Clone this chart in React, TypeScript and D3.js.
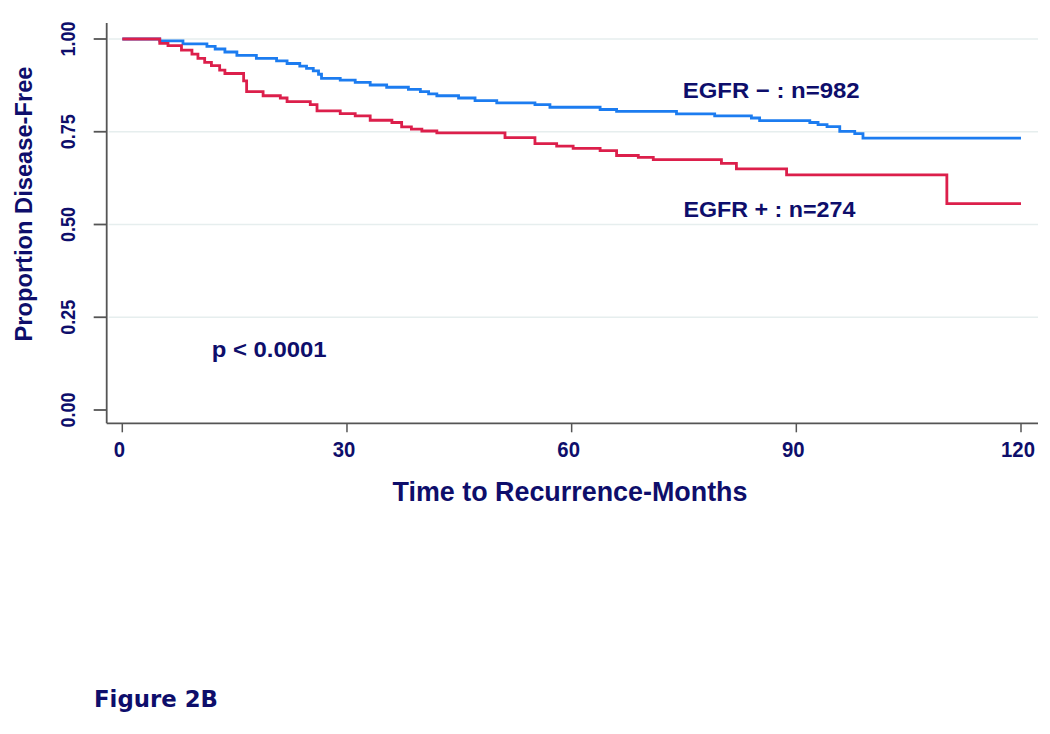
import React from "react";
import * as d3 from "d3";

// EGFR negative: step times (months) and proportion disease-free after each step
const negTimes = [0, 5.0, 8.1, 11.3, 12.4, 13.7, 15.3, 17.9, 20.6, 22.0, 23.7, 24.6, 25.5, 26.2, 26.6, 29.1, 31.1, 33.1, 35.3, 38.2, 39.8, 40.9, 42.0, 44.9, 47.1, 50.0, 55.1, 57.1, 63.8, 66.0, 74.0, 79.1, 84.0, 85.1, 91.8, 92.9, 94.1, 95.8, 97.8, 98.9, 120];
const negSurv = [1.0, 0.995, 0.987, 0.98, 0.973, 0.965, 0.956, 0.948, 0.941, 0.934, 0.927, 0.921, 0.914, 0.905, 0.894, 0.889, 0.883, 0.876, 0.87, 0.864, 0.858, 0.852, 0.847, 0.841, 0.834, 0.828, 0.823, 0.816, 0.81, 0.805, 0.798, 0.793, 0.787, 0.78, 0.775, 0.769, 0.764, 0.751, 0.745, 0.733, 0.733];

// EGFR positive
const posTimes = [0, 5.0, 6.1, 7.9, 9.3, 10.1, 11.0, 11.9, 13.0, 13.7, 16.2, 16.6, 18.8, 21.1, 22.0, 25.1, 26.0, 29.1, 31.1, 33.1, 36.0, 37.3, 38.6, 40.0, 42.0, 51.1, 55.1, 58.0, 60.2, 63.8, 66.0, 68.9, 70.9, 80.0, 82.0, 88.7, 110.1, 120];
const posSurv = [1.0, 0.988, 0.982, 0.97, 0.959, 0.948, 0.937, 0.928, 0.916, 0.907, 0.887, 0.858, 0.847, 0.841, 0.831, 0.823, 0.806, 0.799, 0.793, 0.781, 0.775, 0.763, 0.757, 0.752, 0.747, 0.734, 0.718, 0.711, 0.705, 0.699, 0.686, 0.681, 0.675, 0.665, 0.65, 0.634, 0.556, 0.556];

const xTicks = [0, 30, 60, 90, 120];
const yTicks = [0, 0.25, 0.5, 0.75, 1.0];
const gridTicks = [0.25, 0.5, 0.75, 1.0];

const navy = "#0e0e6b";
const blue = "#1c7cf0";
const red = "#dc1f4b";

export default function App() {
  const x = d3.scaleLinear().domain([0, 120]).range([122.3, 1021]);
  const y = d3.scaleLinear().domain([0, 1]).range([410, 39]);

  const line = d3
    .line<[number, number]>()
    .x((d) => x(d[0]))
    .y((d) => y(d[1]))
    .curve(d3.curveStepAfter);

  const negPts = negTimes.map((t, i) => [t, negSurv[i]] as [number, number]);
  const posPts = posTimes.map((t, i) => [t, posSurv[i]] as [number, number]);

  const axisX0 = 106.7;
  const axisY0 = 423.3;
  const font = "'Liberation Sans', Arial, sans-serif";

  return (
    <svg
      width={1050}
      height={734}
      style={{ position: "absolute", left: 0, top: 0, background: "#fff" }}
      fontFamily={font}
      fontWeight="bold"
    >
      {/* grid */}
      {gridTicks.map((v) => (
        <line key={"g" + v} x1={axisX0 + 2} x2={1038} y1={y(v)} y2={y(v)} stroke="#e6eeee" strokeWidth={1.5} />
      ))}

      {/* axes */}
      <line x1={axisX0} x2={axisX0} y1={23} y2={axisY0} stroke="#555" strokeWidth={1.8} />
      <line x1={axisX0} x2={1038} y1={axisY0} y2={axisY0} stroke="#555" strokeWidth={1.8} />

      {yTicks.map((v) => (
        <g key={"y" + v}>
          <line x1={axisX0 - 13} x2={axisX0} y1={y(v)} y2={y(v)} stroke="#555" strokeWidth={1.8} />
          <text
            transform={`translate(74.5,${y(v)}) rotate(-90)`}
            textAnchor="middle"
            fontSize={20}
            fill={navy}
            textLength={35}
            lengthAdjust="spacingAndGlyphs"
          >
            {v.toFixed(2)}
          </text>
        </g>
      ))}

      {xTicks.map((v) => (
        <g key={"x" + v}>
          <line x1={x(v)} x2={x(v)} y1={axisY0} y2={axisY0 + 9} stroke="#555" strokeWidth={1.5} />
          <text
            x={x(v) - 3}
            y={457}
            textAnchor="middle"
            fontSize={22}
            fill={navy}
            textLength={String(v).length * 11.3}
            lengthAdjust="spacingAndGlyphs"
          >
            {v}
          </text>
        </g>
      ))}

      {/* curves */}
      <path d={line(negPts) ?? ""} fill="none" stroke={blue} strokeWidth={2.8} />
      <path d={line(posPts) ?? ""} fill="none" stroke={red} strokeWidth={2.8} />

      {/* axis titles */}
      <text
        transform="translate(32,204) rotate(-90)"
        textAnchor="middle"
        fontSize={24}
        fill={navy}
        textLength={275}
        lengthAdjust="spacingAndGlyphs"
      >
        Proportion Disease-Free
      </text>
      <text x={570} y={501} textAnchor="middle" fontSize={27} fill={navy} textLength={355} lengthAdjust="spacingAndGlyphs">
        Time to Recurrence-Months
      </text>

      {/* annotations */}
      <text x={682.7} y={98.3} fontSize={22} fill={navy} textLength={177} lengthAdjust="spacingAndGlyphs">
        EGFR − : n=982
      </text>
      <text x={683.4} y={216.7} fontSize={22} fill={navy} textLength={172} lengthAdjust="spacingAndGlyphs">
        EGFR + : n=274
      </text>
      <text x={211.7} y={356.7} fontSize={22} fill={navy} textLength={115} lengthAdjust="spacingAndGlyphs">
        p &lt; 0.0001
      </text>

      <text
        x={94}
        y={707.3}
        fontSize={23}
        fill={navy}
        fontFamily="'DejaVu Sans', Verdana, sans-serif"
        textLength={124}
        lengthAdjust="spacingAndGlyphs"
      >
        Figure 2B
      </text>
    </svg>
  );
}
